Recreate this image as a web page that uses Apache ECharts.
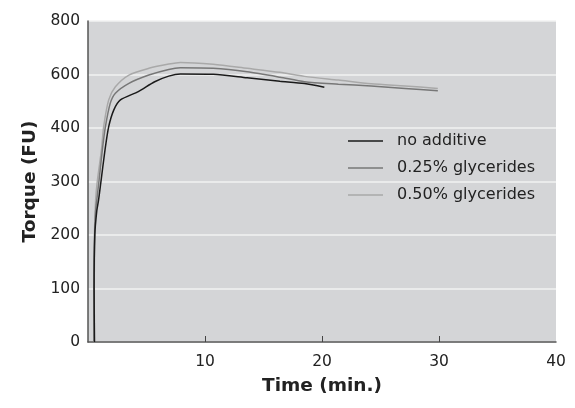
<!DOCTYPE html>
<html>
<head>
<meta charset="utf-8">
<script src="https://cdn.jsdelivr.net/npm/echarts@6/dist/echarts.min.js"></script>
<style>html,body{margin:0;padding:0;background:#fff}#c{width:575px;height:408px}</style>
</head>
<body>
<div id="c"></div>
<script>
// Data (time in min, torque in FU)
var seriesNames = ['no additive', '0.25% glycerides', '0.50% glycerides'];
var timeNoAdd = [0.55,0.52,0.58,0.75,0.9,1.09,1.46,1.77,2.2,2.77,4.3,5.7,6.9,7.9,10.7,13.6,16.4,18.5,20.2];
var torqueNoAdd = [0,100,200,245,265,297,360,405,467,505,536,573,594,602,601,588,575,566,552];
var time025 = [0.55,0.53,0.57,0.65,0.75,0.92,1.23,1.49,1.9,2.34,3.5,5.2,6.9,7.9,10.7,13.6,16.4,18.5,21.4,24.2,27.1,29.9];
var torque025 = [0,100,200,245,265,297,360,405,492,530,567,598,619,625,623,610,590,573,564,557,548,539];
var time050 = [0.5,0.5,0.55,0.62,0.7,0.85,1.15,1.34,1.77,2.34,3.5,5.2,6.9,7.9,10.7,13.6,16.4,18.5,21.4,24.2,27.1,29.9];
var torque050 = [0,100,200,250,280,310,359,405,505,554,598,623,639,645,638,623,608,593,579,565,557,548];
var yTickLabels = [0,100,200,300,400,600,800];
var xTickLabels = [10,20,30,40];

// piecewise y scale: 100 per step up to 400, then 200 per step
function toAxis(v){ return v <= 400 ? v/100 : 4 + (v-400)/200; }
function zip(t, v){ return t.map(function(x,i){ return [x, toAxis(v[i])]; }); }

var chart = echarts.init(document.getElementById('c'));
var font = '"DejaVu Sans", sans-serif';
function mk(name, t, v, color, z){
  return { name:name, type:'line', data:zip(t,v), symbol:'none', smooth:0.25, z:z,
    lineStyle:{color:color, width:1.5}, itemStyle:{color:color} };
}
chart.setOption({
  animation:false,
  grid:{left:88, right:19, top:21, bottom:66, show:true, backgroundColor:'#d4d5d7', borderWidth:0},
  legend:{
    orient:'vertical', left:348, top:133, padding:0, icon:'rect', itemWidth:35, itemHeight:1.5, itemGap:11,
    textStyle:{fontFamily:font, fontSize:16, color:'#222', padding:[0,0,0,9]},
    data:seriesNames
  },
  xAxis:{
    type:'value', min:0, max:40, interval:10,
    name:'Time (min.)', nameLocation:'middle', nameGap:35,
    nameTextStyle:{fontFamily:font, fontWeight:'bold', fontSize:18.5, color:'#222'},
    axisLine:{show:true, lineStyle:{color:'#555', width:1.5}},
    axisTick:{show:true, inside:true, length:6, customValues:[10,20,30], lineStyle:{color:'#444', width:1}},
    axisLabel:{customValues:xTickLabels, fontFamily:font, fontSize:15.5, color:'#222', margin:12},
    splitLine:{show:false}
  },
  yAxis:{
    type:'value', min:0, max:6, interval:1,
    name:'Torque (FU)', nameLocation:'middle', nameGap:44, nameRotate:90,
    nameTextStyle:{fontFamily:font, fontWeight:'bold', fontSize:18.5, color:'#222'},
    axisLine:{show:true, lineStyle:{color:'#555', width:1.5}},
    axisTick:{show:false},
    axisLabel:{fontFamily:font, fontSize:15.5, color:'#222', margin:8,
      formatter:function(v){ return String(yTickLabels[Math.round(v)]); }},
    splitLine:{show:true, lineStyle:{color:'#f2f2f2', width:1.5}}
  },
  series:[
    mk(seriesNames[0], timeNoAdd, torqueNoAdd, '#1a1a1a', 5),
    mk(seriesNames[1], time025, torque025, '#777777', 4),
    mk(seriesNames[2], time050, torque050, '#a9a9a9', 3)
  ]
});
</script>
</body>
</html>
